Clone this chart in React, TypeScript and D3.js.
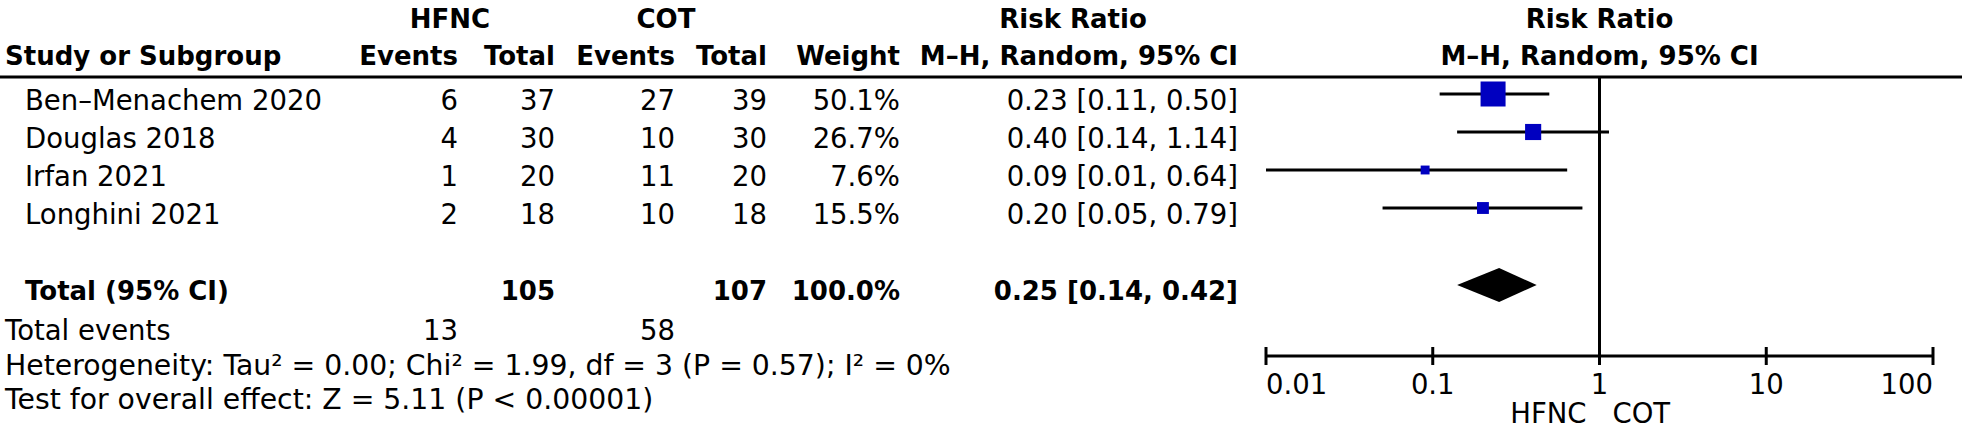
import React from "react";
import * as d3 from "d3";

const studies = ["Ben\u2013Menachem 2020", "Douglas 2018", "Irfan 2021", "Longhini 2021"];
const hfncEvents = [6, 4, 1, 2];
const hfncTotal = [37, 30, 20, 18];
const cotEvents = [27, 10, 11, 10];
const cotTotal = [39, 30, 20, 18];
const weights = [50.1, 26.7, 7.6, 15.5];
const rr = [0.23, 0.4, 0.09, 0.2];
const rrLo = [0.11, 0.14, 0.01, 0.05];
const rrHi = [0.5, 1.14, 0.64, 0.79];
const pooled = { rr: 0.25, lo: 0.14, hi: 0.42 };
const totalHfnc = 105;
const totalCot = 107;
const totalWeight = "100.0%";
const eventsHfnc = 13;
const eventsCot = 58;
const tickValues = [0.01, 0.1, 1, 10, 100];
const tickLabels = ["0.01", "0.1", "1", "10", "100"];
const heterogeneity = "Heterogeneity: Tau\u00B2 = 0.00; Chi\u00B2 = 1.99, df = 3 (P = 0.57); I\u00B2 = 0%";
const overall = "Test for overall effect: Z = 5.11 (P < 0.00001)";

const W = 1968;
const H = 428;
const FS = 27.5;
const FSB = 26;
const FONT = "'DejaVu Sans', sans-serif";
const BLUE = "#0000C0";

export default function App() {
  const x = d3.scaleLog().domain([0.01, 100]).range([1266, 1933]);
  const rowY = d3.scaleLinear().domain([0, 1]).range([94, 132]);
  const size = d3.scaleLinear().domain([0, 50.1]).range([6, 25]);
  const fmt2 = d3.format(".2f");
  const fmtRR = (v: number, l: number, h: number) => `${fmt2(v)} [${fmt2(l)}, ${fmt2(h)}]`;

  const colE1 = 458, colT1 = 555, colE2 = 675, colT2 = 767, colW = 900, colRR = 1238;
  const totalY = 285;
  const axisY = 356;
  const x1 = x(1);

  const txt = (props: any, s: any, bold = false) => (
    <text fontFamily={FONT} fontSize={bold ? FSB : FS} fontWeight={bold ? "bold" : "normal"} fill="#000" {...props}>{s}</text>
  );

  return (
    <svg width={W} height={H} style={{ position: "absolute", left: 0, top: 0, background: "#fff" }}>
      <rect width={W} height={H} fill="#fff" />
      {/* headers */}
      {txt({ x: 450, y: 28, textAnchor: "middle" }, "HFNC", true)}
      {txt({ x: 666, y: 28, textAnchor: "middle" }, "COT", true)}
      {txt({ x: 1073, y: 28, textAnchor: "middle" }, "Risk Ratio", true)}
      {txt({ x: x1, y: 28, textAnchor: "middle" }, "Risk Ratio", true)}
      {txt({ x: 5, y: 65 }, "Study or Subgroup", true)}
      {txt({ x: colE1, y: 65, textAnchor: "end" }, "Events", true)}
      {txt({ x: colT1, y: 65, textAnchor: "end" }, "Total", true)}
      {txt({ x: colE2, y: 65, textAnchor: "end" }, "Events", true)}
      {txt({ x: colT2, y: 65, textAnchor: "end" }, "Total", true)}
      {txt({ x: colW, y: 65, textAnchor: "end" }, "Weight", true)}
      {txt({ x: colRR, y: 65, textAnchor: "end" }, "M\u2013H, Random, 95% CI", true)}
      {txt({ x: x1, y: 65, textAnchor: "middle" }, "M\u2013H, Random, 95% CI", true)}
      <line x1={0} x2={1962} y1={77} y2={77} stroke="#000" strokeWidth={3} />

      {/* null line */}
      <line x1={x1} x2={x1} y1={77} y2={axisY + 9} stroke="#000" strokeWidth={3} />

      {/* study rows */}
      {studies.map((s, i) => {
        const cy = rowY(i);
        const by = cy + 16;
        const sz = size(weights[i]);
        return (
          <g key={s}>
            {txt({ x: 25, y: by }, s)}
            {txt({ x: colE1, y: by, textAnchor: "end" }, hfncEvents[i])}
            {txt({ x: colT1, y: by, textAnchor: "end" }, hfncTotal[i])}
            {txt({ x: colE2, y: by, textAnchor: "end" }, cotEvents[i])}
            {txt({ x: colT2, y: by, textAnchor: "end" }, cotTotal[i])}
            {txt({ x: colW, y: by, textAnchor: "end" }, `${weights[i].toFixed(1)}%`)}
            {txt({ x: colRR, y: by, textAnchor: "end" }, fmtRR(rr[i], rrLo[i], rrHi[i]))}
            <line x1={x(rrLo[i])} x2={x(rrHi[i])} y1={cy} y2={cy} stroke="#000" strokeWidth={3} />
            <rect x={x(rr[i]) - sz / 2} y={cy - sz / 2} width={sz} height={sz} fill={BLUE} />
          </g>
        );
      })}

      {/* total */}
      {txt({ x: 25, y: totalY + 15 }, "Total (95% CI)", true)}
      {txt({ x: colT1, y: totalY + 15, textAnchor: "end" }, totalHfnc, true)}
      {txt({ x: colT2, y: totalY + 15, textAnchor: "end" }, totalCot, true)}
      {txt({ x: colW, y: totalY + 15, textAnchor: "end" }, totalWeight, true)}
      {txt({ x: colRR, y: totalY + 15, textAnchor: "end" }, fmtRR(pooled.rr, pooled.lo, pooled.hi), true)}
      <path
        d={`M${x(pooled.lo)},${totalY} L${x(pooled.rr)},${totalY - 17} L${x(pooled.hi)},${totalY} L${x(pooled.rr)},${totalY + 17} Z`}
        fill="#000"
      />

      {txt({ x: 5, y: 340 }, "Total events")}
      {txt({ x: colE1, y: 340, textAnchor: "end" }, eventsHfnc)}
      {txt({ x: colE2, y: 340, textAnchor: "end" }, eventsCot)}
      {txt({ x: 5, y: 375, fontSize: 28.3 }, heterogeneity)}
      {txt({ x: 5, y: 409, fontSize: 28.3 }, overall)}

      {/* axis */}
      <line x1={x(0.01)} x2={x(100)} y1={axisY} y2={axisY} stroke="#000" strokeWidth={3} />
      {tickValues.map((t, i) => (
        <g key={t}>
          <line x1={x(t)} x2={x(t)} y1={axisY - 9} y2={axisY + 9} stroke="#000" strokeWidth={3} />
          {txt(
            {
              x: x(t),
              y: 394,
              textAnchor: i === 0 ? "start" : i === tickValues.length - 1 ? "end" : "middle",
            },
            tickLabels[i]
          )}
        </g>
      ))}
      {txt({ x: x1 - 13, y: 423, textAnchor: "end" }, "HFNC")}
      {txt({ x: x1 + 13, y: 423, textAnchor: "start" }, "COT")}
    </svg>
  );
}
